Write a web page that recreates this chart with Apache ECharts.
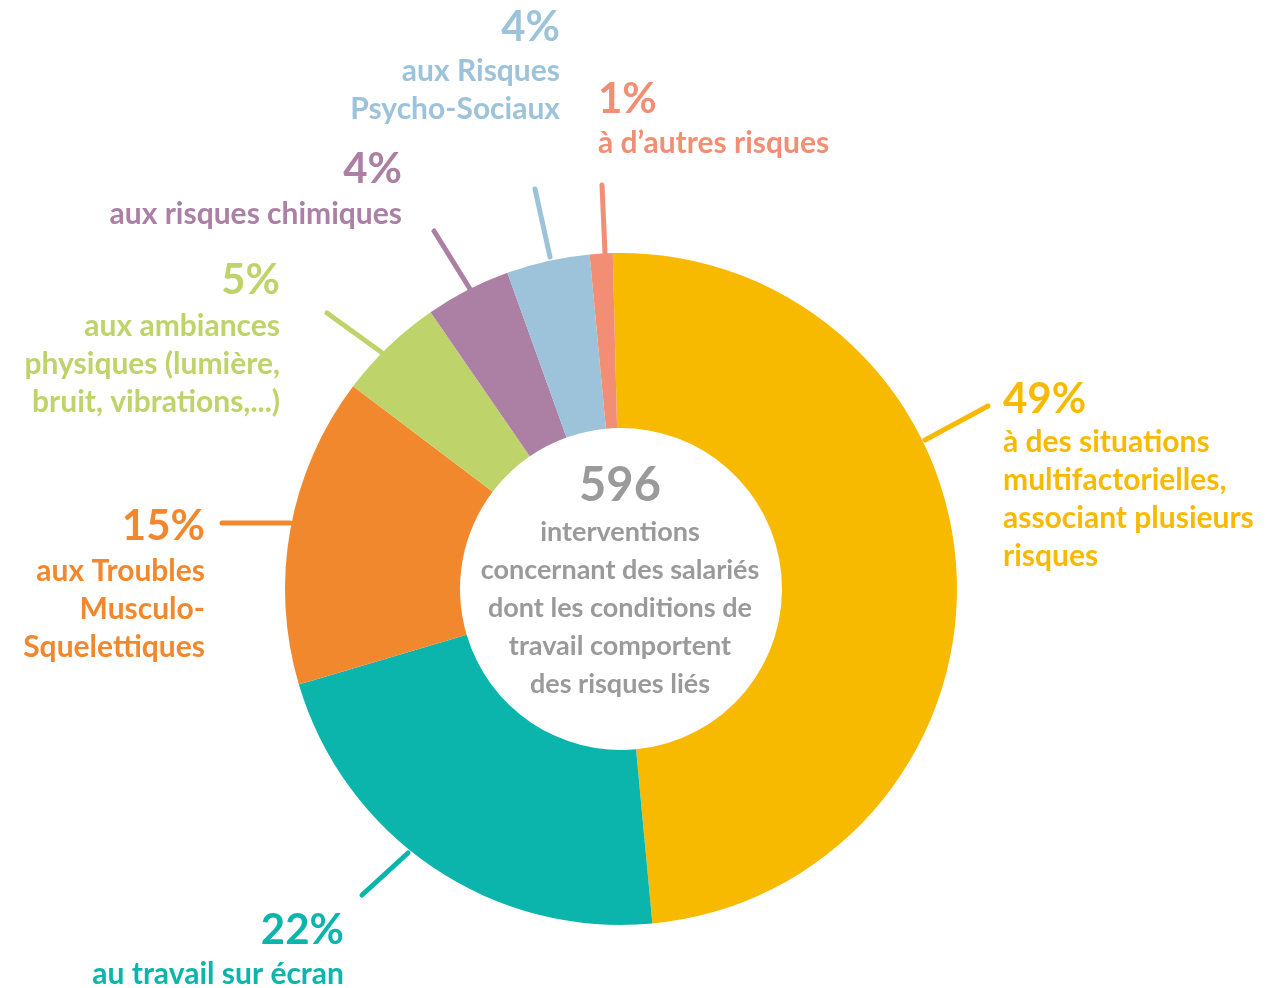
<!DOCTYPE html>
<html>
<head>
<meta charset="utf-8">
<title>Interventions par type de risque</title>
<script src="https://cdn.jsdelivr.net/npm/echarts@6/dist/echarts.min.js"></script>
<style>
  html, body { margin: 0; padding: 0; background: #fff; }
  #main { width: 1287px; height: 988px; }
</style>
</head>
<body>
<div id="main"></div>
<script>
// slices in clockwise order from the top (share of the ring)
const categories = [
  'multifactorielles', 'écran', 'TMS', 'ambiances', 'chimiques', 'RPS', 'autres'
]
const shares = [48.9, 21.9, 14.9, 5.1, 4.1, 4.0, 1.1]
const percentLabels = ['49%', '22%', '15%', '5%', '4%', '4%', '1%']
const descriptions = [
  'à des situations\nmultifactorielles,\nassociant plusieurs\nrisques',
  'au travail sur écran',
  'aux Troubles\nMusculo-\nSquelettiques',
  'aux ambiances\nphysiques (lumière,\nbruit, vibrations,...)',
  'aux risques chimiques',
  'aux Risques\nPsycho-Sociaux',
  'à d’autres risques'
]
const colors = ['#f8ba00', '#0bb5ac', '#f2882e', '#bed46a', '#ac80a4', '#9cc3da', '#f28e74']
const total = 596
const centerLines = [
  'interventions',
  'concernant des salariés',
  'dont les conditions de',
  'travail comportent',
  'des risques liés'
]

// label placement: text anchor, alignment, leader line ends
const layout = [
  { x: 1003, pctY: 399, descY: 499, align: 'left',  line: [925, 440, 988, 406] },
  { x: 344,  pctY: 930, descY: 974, align: 'right', line: [408, 853, 362, 895] },
  { x: 205,  pctY: 526, descY: 609, align: 'right', line: [290, 523, 222, 523] },
  { x: 280,  pctY: 280, descY: 364, align: 'right', line: [381, 352, 327, 313] },
  { x: 402,  pctY: 169, descY: 214, align: 'right', line: [470, 289, 434, 231] },
  { x: 560,  pctY: 27,  descY: 90,  align: 'right', line: [550, 257, 535, 189] },
  { x: 598,  pctY: 99,  descY: 143, align: 'left',  line: [605, 253, 602, 185] }
]

const FONT = 'Lato, "Open Sans", sans-serif'
const chart = echarts.init(document.getElementById('main'))

const graphics = []
layout.forEach((l, i) => {
  graphics.push({
    type: 'line',
    shape: { x1: l.line[0], y1: l.line[1], x2: l.line[2], y2: l.line[3] },
    style: { stroke: colors[i], lineWidth: 5, lineCap: 'round' }
  })
  graphics.push({
    type: 'text',
    x: l.x, y: l.pctY,
    style: {
      text: percentLabels[i], fill: colors[i],
      font: 'bold 42px ' + FONT,
      textAlign: l.align, textVerticalAlign: 'middle'
    }
  })
  graphics.push({
    type: 'text',
    x: l.x, y: l.descY,
    style: {
      text: descriptions[i], fill: colors[i],
      font: 'bold 30px ' + FONT, lineHeight: 38,
      textAlign: l.align, textVerticalAlign: 'middle'
    }
  })
})
graphics.push({
  type: 'text', x: 620, y: 486,
  style: {
    text: String(total), fill: '#9a9a9a',
    font: 'bold 47px ' + FONT,
    textAlign: 'center', textVerticalAlign: 'middle'
  }
})
graphics.push({
  type: 'text', x: 620, y: 608,
  style: {
    text: centerLines.join('\n'), fill: '#9a9a9a',
    font: 'bold 27px ' + FONT, lineHeight: 38,
    textAlign: 'center', textVerticalAlign: 'middle'
  }
})

chart.setOption({
  animation: false,
  color: colors,
  series: [{
    type: 'pie',
    center: [621, 589],
    radius: [161, 336],
    startAngle: 91.4,
    clockwise: true,
    label: { show: false },
    labelLine: { show: false },
    itemStyle: { borderWidth: 0 },
    emphasis: { disabled: true },
    data: categories.map((name, i) => ({ name, value: shares[i] }))
  }],
  graphic: graphics
})
</script>
</body>
</html>
